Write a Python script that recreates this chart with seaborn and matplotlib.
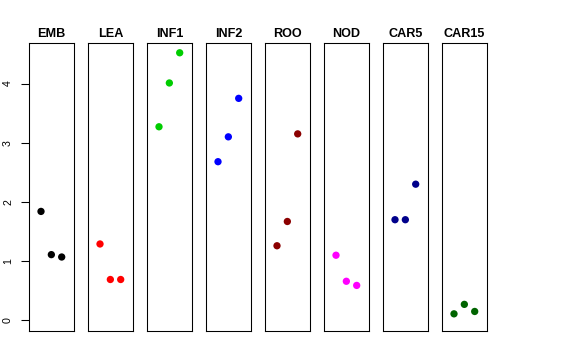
import seaborn as sns
import matplotlib.pyplot as plt
import pandas as pd

# tissues and values (3 replicates each)
tissues = ["EMB", "LEA", "INF1", "INF2", "ROO", "NOD", "CAR5", "CAR15"]
colores = ["#000000", "#FF0000", "#00CD00", "#0000FF",
           "#8B0000", "#FF00FF", "#00008B", "#006400"]
replica = [1, 2, 3]
emb = [1.84, 1.11, 1.07]
lea = [1.29, 0.69, 0.69]
inf1 = [3.27, 4.01, 4.52]
inf2 = [2.68, 3.10, 3.75]
roo = [1.26, 1.67, 3.15]
nod = [1.10, 0.66, 0.59]
car5 = [1.70, 1.70, 2.30]
car15 = [0.11, 0.27, 0.15]
valores = [emb, lea, inf1, inf2, roo, nod, car5, car15]

filas = []
for t, vals in zip(tissues, valores):
    for r, v in zip(replica, vals):
        filas.append({"tissue": t, "rep": r, "expr": v})
datos = pd.DataFrame(filas)

sns.set_style("white")
plt.rcParams["font.family"] = ["Liberation Sans", "DejaVu Sans"]
plt.rcParams["text.color"] = "black"
plt.rcParams["ytick.color"] = "black"

fig = plt.figure(figsize=(6, 3.75), dpi=96)

izq = 29 / 576
ancho = 44.7 / 576
paso = 59 / 576
abajo = 1 - 331 / 360
alto = (331 - 43.3) / 360

for i, (t, c) in enumerate(zip(tissues, colores)):
    ax = fig.add_axes([izq + i * paso, abajo, ancho, alto])
    sub = datos[datos["tissue"] == t]
    sns.scatterplot(x="rep", y="expr", data=sub, color=c, s=30,
                    edgecolor="none", ax=ax, legend=False)
    ax.set_xlim(-0.16, 4.16)
    ax.set_ylim(-0.18, 4.68)
    ax.set_xlabel("")
    ax.set_ylabel("")
    ax.set_xticks([])
    ax.set_title(t, fontsize=9.5, fontweight="bold", pad=5, color="black")
    for s in ax.spines.values():
        s.set_visible(True)
        s.set_color("black")
        s.set_linewidth(0.8)
    if i == 0:
        ax.set_yticks([0, 1, 2, 3, 4])
        ax.tick_params(axis="y", left=True, length=6, width=0.8,
                       labelsize=8, pad=6, direction="out",
                       colors="black")
        for lab in ax.get_yticklabels():
            lab.set_rotation(90)
            lab.set_va("center")
    else:
        ax.set_yticks([])

fig.savefig("out.png", dpi=96)
